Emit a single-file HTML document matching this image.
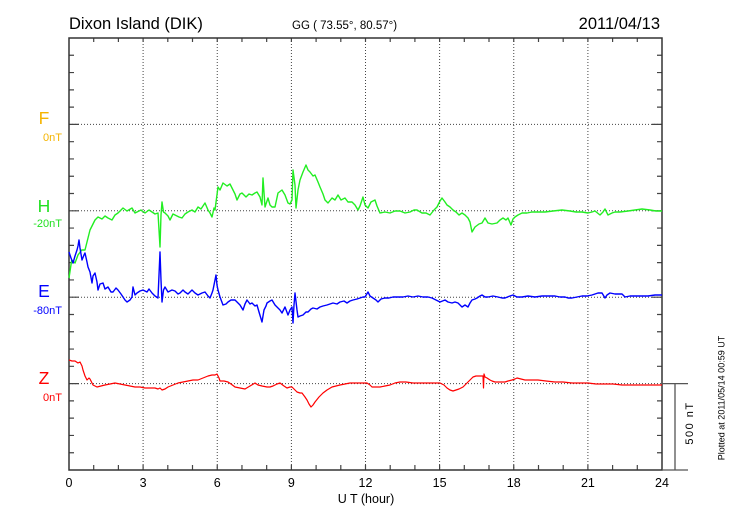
<!DOCTYPE html>
<html><head><meta charset="utf-8"><style>
html,body{margin:0;padding:0;background:#fff;}
svg{display:block;}
text{font-family:"Liberation Sans",Arial,sans-serif;}
</style></head><body>
<svg width="730" height="520" viewBox="0 0 730 520" xmlns="http://www.w3.org/2000/svg">
<rect width="730" height="520" fill="#fff"/>
<!-- titles -->
<text x="69" y="29" font-size="16.5" fill="#000">Dixon Island (DIK)</text>
<text x="292" y="29" font-size="11.5" fill="#000">GG ( 73.55°,  80.57°)</text>
<text x="660" y="29" font-size="16.5" fill="#000" text-anchor="end">2011/04/13</text>

<!-- grid -->
<g stroke="#444" stroke-width="1" stroke-dasharray="1,2" fill="none">
<path d="M143.1 38V470M217.25 38V470M291.4 38V470M365.5 38V470M439.6 38V470M513.75 38V470M587.9 38V470"/>
<path d="M69 124.4H662M69 210.8H662M69 297.2H662M69 383.6H662"/>
</g>

<!-- ticks -->
<g stroke="#444" stroke-width="1.2" fill="none">
<path d="M69 55.28h5M69 72.56h5M69 89.84h5M69 107.12h5M69 124.4h10M69 141.68h5M69 158.96h5M69 176.24h5M69 193.52h5M69 210.8h10M69 228.08h5M69 245.36h5M69 262.64h5M69 279.92h5M69 297.2h10M69 314.48h5M69 331.76h5M69 349.04h5M69 366.32h5M69 383.6h10M69 400.88h5M69 418.16h5M69 435.44h5M69 452.72h5"/>
<path d="M662 55.28h-5M662 72.56h-5M662 89.84h-5M662 107.12h-5M662 124.4h-10M662 141.68h-5M662 158.96h-5M662 176.24h-5M662 193.52h-5M662 210.8h-10M662 228.08h-5M662 245.36h-5M662 262.64h-5M662 279.92h-5M662 297.2h-10M662 314.48h-5M662 331.76h-5M662 349.04h-5M662 366.32h-5M662 400.88h-5M662 418.16h-5M662 435.44h-5M662 452.72h-5"/>
<path d="M93.7 38v4M118.4 38v4M143.1 38v4M167.8 38v4M192.5 38v4M217.25 38v4M241.96 38v4M266.67 38v4M291.4 38v4M316.1 38v4M340.8 38v4M365.5 38v4M390.2 38v4M414.9 38v4M439.6 38v4M464.3 38v4M489 38v4M513.75 38v4M538.5 38v4M563.2 38v4M587.9 38v4M612.6 38v4M637.3 38v4"/>
<path d="M93.7 470v-5M118.4 470v-5M143.1 470v-5M167.8 470v-5M192.5 470v-5M217.25 470v-5M241.96 470v-5M266.67 470v-5M291.4 470v-5M316.1 470v-5M340.8 470v-5M365.5 470v-5M390.2 470v-5M414.9 470v-5M439.6 470v-5M464.3 470v-5M489 470v-5M513.75 470v-5M538.5 470v-5M563.2 470v-5M587.9 470v-5M612.6 470v-5M637.3 470v-5"/>
</g>

<!-- frame -->
<rect x="69" y="38" width="593" height="432" fill="none" stroke="#333" stroke-width="1.5"/>

<!-- scale bar -->
<g stroke="#555" stroke-width="1.3" fill="none">
<path d="M662 383.6H688M662 470H688M675 383.6V470"/>
</g>
<text transform="translate(693,423) rotate(-90)" font-size="11" letter-spacing="1.5" text-anchor="middle" fill="#000">500 nT</text>
<text transform="translate(724.5,398) rotate(-90)" font-size="9" text-anchor="middle" fill="#000">Plotted at 2011/05/14 00:59 UT</text>

<!-- left labels -->
<g text-anchor="middle" font-size="17.5">
<text x="44" y="124" fill="#f5b400">F</text>
<text x="44" y="212" fill="#22e022">H</text>
<text x="44" y="297" fill="#0000ff">E</text>
<text x="44" y="384" fill="#ff0000">Z</text>
</g>
<g text-anchor="end" font-size="11">
<text x="62" y="141" fill="#f5b400">0nT</text>
<text x="62" y="227" fill="#22e022">-20nT</text>
<text x="62" y="314" fill="#0000ff">-80nT</text>
<text x="62" y="401" fill="#ff0000">0nT</text>
</g>

<!-- x axis labels -->
<g text-anchor="middle" font-size="12.5" fill="#000">
<text x="69" y="487">0</text>
<text x="143.1" y="487">3</text>
<text x="217.25" y="487">6</text>
<text x="291.4" y="487">9</text>
<text x="365.5" y="487">12</text>
<text x="439.6" y="487">15</text>
<text x="513.75" y="487">18</text>
<text x="587.9" y="487">21</text>
<text x="662" y="487">24</text>
<text x="366" y="503">U T (hour)</text>
</g>

<!-- H (green) -->
<polyline fill="none" stroke="#22ee22" stroke-width="1.4" stroke-linejoin="round" points="
69,278 71.7,260 75,263 78,255 81.7,250 85,250 88,238 90,230 93,224 95,220 98,217 102,219 105,216 108,218 112,220 115,215 118,213 121,210 123,208 127,211 132,208 135,213 137,212 141,210 145,213 149,210 152,212 155,214 158,213 160,247 161,215 162,202 163.5,212 165,213 168,216 170,220 173,214 175,215 179,217 182,218 185,214 188,212 192,210 195,212 198,207 201,209 205,203 208,210 210,213 212,217 214,208 215,210 218,187 220,190 223,183 227,186 230,184 232,188 235,194 237,200 240,194 242,193 246,197 249,194 252,195 255,193 257,192 260,197 262,205 263,178 265,207 268,198 270,205 272,207 275,207 278,193 282,190 285,195 288,203 290,204 292,200 293,170 295,185 296,208 298,190 300,180 303,172 306,165 308,170 310,172 313,176 315,175 318,182 320,187 323,194 325,200 328,203 332,198 335,200 338,195 341,200 345,198 348,202 352,202 355,205 358,210 360,206 363,197 365,205 368,208 371,202 375,200 377,206 380,213 385,212 390,213 395,211 400,211 405,213 410,212 414,210 417,210 422,213 426,213 430,215 434,210 437,207 440,201 442,198 445,202 447,205 450,207 453,210 456,212 459,215 462,213 465,215 468,218 470,222 472,232 475,227 479,224 482,223 485,218 488,223 492,224 497,223 500,220 503,218 506,220 508,218 511,225 513,219 515,217 518,215 522,213 527,213 532,212 538,212 545,212 553,211 562,210 570,211 576,212 582,212 588,213 592,212 595,211 600,215 603,212 605,209 608,215 612,213 615,212 620,212 628,211 635,210 642,209 650,210 656,211 662,211"/>

<!-- E (blue) -->
<polyline fill="none" stroke="#0000ff" stroke-width="1.4" stroke-linejoin="round" points="
69,252 71,258 73,263 75,256 77,250 78,246 79,240 80,248 82,260 84,255 85,253 87,262 88,267 90,272 92,283 93,276 95,273 97,282 98,290 100,284 103,283 105,289 108,287 111,292 113,292 116,288 118,290 121,294 123,297 125,300 127,302 130,300 132,297 133,287 135,295 137,293 140,291 143,290 147,292 149,289 152,293 155,296 158,298 160,252 161,280 162,302 163.5,290 165,287 168,292 172,290 175,291 178,294 180,293 183,290 185,292 188,294 192,290 195,293 198,295 202,293 205,292 208,296 210,298 212,293 213,290 216,275 217,285 218,290 220,297 223,305 226,304 228,302 231,300 235,300 238,303 240,305 243,310 245,304 247,300 250,304 252,303 255,306 257,305 259,312 262,322 264,310 266,306 267,303 270,301 272,300 275,305 277,307 280,310 282,313 285,307 288,315 290,310 292,307 293,323 294,305 295,293 297,310 298,317 300,316 303,315 306,312 308,312 311,309 313,308 317,309 320,307 323,306 327,305 330,304 333,303 337,304 340,302 344,301 347,303 350,301 353,300 357,299 360,298 363,297 365,297 368,292 370,296 373,298 376,300 378,302 381,299 385,298 389,298 393,297 398,297 403,297 408,296 413,297 418,296 423,297 428,297 432,298 436,300 440,302 445,300 448,302 452,303 455,302 458,303 462,307 465,305 468,307 470,303 472,300 475,299 477,298 480,296 482,295 485,297 488,297 493,296 498,297 502,298 505,298 510,296 513,295 517,297 522,297 528,296 535,297 542,296 548,296 555,296 560,297 565,297 568,298 572,298 577,297 582,296 587,296 592,295 598,293 602,293 605,298 607,295 610,293 615,294 622,294 625,297 630,296 635,296 642,296 648,296 655,295 662,295"/>

<!-- Z (red) -->
<polyline fill="none" stroke="#ff0000" stroke-width="1.2" stroke-linejoin="round" points="
69,360 72,361 75,361 78,363 80,362 82,366 83,370 85,376 87,380 89,378 90,379 92,383 93,385 95,386 97,387 101,386 105,385 110,384 115,383 120,384 125,385 130,386 135,387 140,387 145,388 150,388 155,388 158,389 160,388 162,390 165,389 168,387 173,385 178,383 183,382 188,381 193,380 198,380 203,378 208,376 212,375 215,375 217,374 219,378 220,381 224,381 228,382 231,384 235,387 240,388 245,389 250,386 255,383 258,385 262,386 267,387 270,387 273,386 277,384 280,383 284,386 287,388 290,387 292,387 295,390 297,392 300,393 302,393 305,397 307,400 309,404 311,407 313,405 315,402 319,397 323,393 327,390 332,387 336,386 340,385 345,384 350,383 355,383 360,383 364,383 367,383 370,385 372,387 376,387 380,387 385,386 390,385 395,383 400,382 406,382 413,383 420,383 427,383 434,383 440,383 444,385 447,388 450,390 453,391 456,390 459,389 461,388 463,387 466,384 468,382 471,379 473,377 476,376 478,376 481,376 483,376 483.5,388 484,374 485,377 487,378 490,380 492,381 495,382 498,382 502,382 505,382 508,381 512,380 515,379 517,378 521,379 525,380 531,380 538,380 546,381 555,382 563,382 572,383 580,383 588,383 596,384 605,384 613,384 622,385 632,385 642,385 652,385 662,385"/>
</svg>
</body></html>
